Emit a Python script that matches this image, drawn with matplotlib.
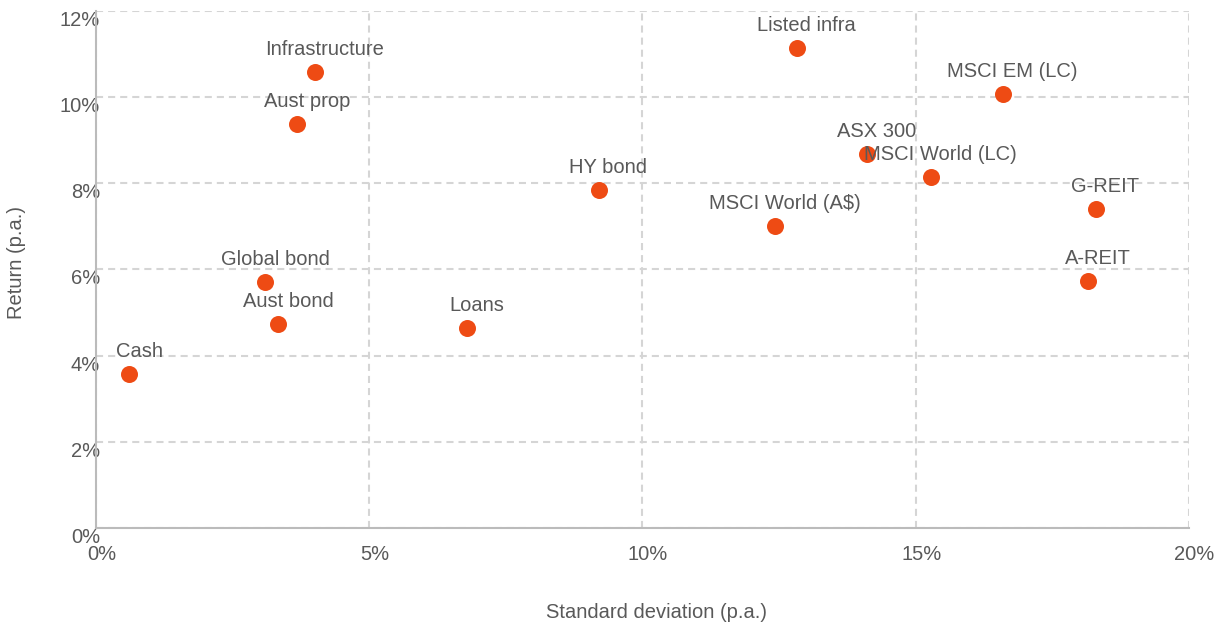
import matplotlib.pyplot as plt
from matplotlib.transforms import ScaledTranslation

assets = ["Cash", "Global bond", "Aust bond", "Loans", "Infrastructure", "Aust prop",
          "HY bond", "Listed infra", "MSCI World (A$)", "ASX 300", "MSCI World (LC)",
          "MSCI EM (LC)", "G-REIT", "A-REIT"]
std_dev = [0.61, 3.10, 3.34, 6.79, 4.01, 3.68, 9.20, 12.82, 12.42, 14.10, 15.27, 16.59, 18.29, 18.16]
returns = [3.57, 5.71, 4.74, 4.64, 10.58, 9.38, 7.85, 11.14, 7.01, 8.68, 8.15, 10.07, 7.40, 5.73]
x_ticks = [0, 5, 10, 15, 20]
y_ticks = [0, 2, 4, 6, 8, 10, 12]

plt.rcParams["font.family"] = ["Liberation Sans", "DejaVu Sans"]
plt.rcParams["font.size"] = 14.5
text_col = "#595959"
dot_col = "#EE4B14"

fig = plt.figure(figsize=(12.3, 6.29), dpi=100)
ax = fig.add_axes([0.078, 0.1606, 0.8887, 0.822])

ax.scatter(std_dev, returns, s=150, color=dot_col, zorder=3, linewidths=0)
for name, x, y in zip(assets, std_dev, returns):
    ax.annotate(name, (x, y), xytext=(7, 12), textcoords="offset points",
                ha="center", va="baseline", color=text_col, zorder=4)

ax.set_xlim(0, 20)
ax.set_ylim(0, 12)
ax.set_xticks(x_ticks, [f"{v}%" for v in x_ticks], color=text_col)
ax.set_yticks(y_ticks, [f"{v}%" for v in y_ticks], color=text_col, va="top")
ax.tick_params(axis="both", length=0)
ax.tick_params(axis="x", pad=12)
ax.tick_params(axis="y", pad=-3)
shift = ScaledTranslation(4 / 72, 0, fig.dpi_scale_trans)
for lbl in ax.get_xticklabels():
    lbl.set_transform(lbl.get_transform() + shift)

ax.grid(True, color="#D5D5D5", linestyle=(0, (3.4, 2.4)), linewidth=1.5)
ax.set_axisbelow(True)
for side in ["top", "right"]:
    ax.spines[side].set_visible(False)
for side in ["left", "bottom"]:
    ax.spines[side].set_color("#BBBBBB")
    ax.spines[side].set_linewidth(1.5)

ax.set_xlabel("Standard deviation (p.a.)", color=text_col)
ax.set_ylabel("Return (p.a.)", color=text_col)
ax.xaxis.set_label_coords(0.513, -0.164)
ax.yaxis.set_label_coords(-0.073, 0.514)
ax.xaxis.label.set_va("center")
ax.yaxis.label.set_va("center")

fig.savefig("out.png", dpi=100)
